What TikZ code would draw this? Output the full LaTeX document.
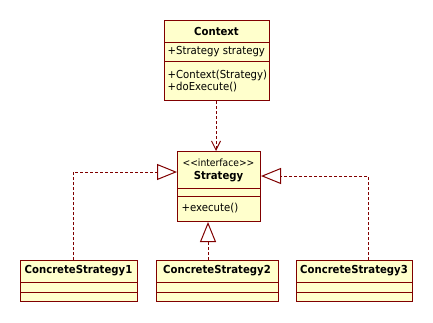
\documentclass[tikz,border=0pt]{standalone}
\usepackage{fontspec}
\setmainfont{DejaVu Sans}[FakeStretch=0.92]
\usetikzlibrary{arrows.meta}
\definecolor{umlline}{HTML}{800000}
\definecolor{umlfill}{HTML}{FFFFCC}
\tikzset{
  classbox/.style={draw=umlline, fill=umlfill, line width=1pt, inner sep=0pt, anchor=north west},
  divider/.style={draw=umlline, line width=1pt},
  title/.style={font=\fontsize{11}{13}\selectfont\bfseries, inner sep=0pt},
  member/.style={font=\fontsize{11}{13}\selectfont, inner sep=0pt, anchor=west},
  depend/.style={draw=umlline, line width=1pt, dash pattern=on 3pt off 2pt, -{Straight Barb[length=9pt,width=9pt,line width=1pt]}},
  realize/.style={draw=umlline, line width=1pt, dash pattern=on 3pt off 2pt, -{Triangle[open,length=20pt,width=16pt,line width=1pt,fill=white]}}
}
\begin{document}
\begin{tikzpicture}[x=1pt, y=-1pt]
\useasboundingbox (0,0) rectangle (433,322);
\fill[white] (0,0) rectangle (433,322);

% Context class
\node[classbox, minimum width=105pt, minimum height=80pt] (ctx) at (164,20) {};
\draw[divider] (ctx.west |- 0,42.5) -- (ctx.east |- 0,42.5);
\draw[divider] (ctx.west |- 0,61) -- (ctx.east |- 0,61);
\node[title] (ctxname) at (216.5,31.5) {Context};
\node[member] (ctxattr) at (167.5,52) {+Strategy strategy};
\node[member] (ctxop1) at (167.5,75) {+Context(Strategy)};
\node[member] (ctxop2) at (167.5,87.5) {+doExecute()};

% Strategy interface
\node[classbox, minimum width=83pt, minimum height=70pt] (strat) at (177,151) {};
\draw[divider] (strat.west |- 0,188) -- (strat.east |- 0,188);
\draw[divider] (strat.west |- 0,196.5) -- (strat.east |- 0,196.5);
\node[member, anchor=center, font=\fontsize{10}{12}\selectfont] (stereo) at (218.5,163) {<\kern0pt<interface>\kern0pt>};
\node[title] (stratname) at (218.5,176.5) {Strategy};
\node[member] (stratop) at (181.5,208.5) {+execute()};

% Concrete strategies
\node[classbox, minimum width=117pt, minimum height=41pt] (cs1) at (20,260) {};
\draw[divider] (cs1.west |- 0,282) -- (cs1.east |- 0,282);
\draw[divider] (cs1.west |- 0,292) -- (cs1.east |- 0,292);
\node[title] (cs1name) at (78.5,271) {ConcreteStrategy1};

\node[classbox, minimum width=122pt, minimum height=41pt] (cs2) at (156,260) {};
\draw[divider] (cs2.west |- 0,282) -- (cs2.east |- 0,282);
\draw[divider] (cs2.west |- 0,292) -- (cs2.east |- 0,292);
\node[title] (cs2name) at (217,271) {ConcreteStrategy2};

\node[classbox, minimum width=116pt, minimum height=41pt] (cs3) at (296,260) {};
\draw[divider] (cs3.west |- 0,282) -- (cs3.east |- 0,282);
\draw[divider] (cs3.west |- 0,292) -- (cs3.east |- 0,292);
\node[title] (cs3name) at (354,271) {ConcreteStrategy3};

% Relations
\draw[depend] (ctx.south -| 216,0) -- (strat.north -| 216,0);
\draw[realize] (cs1.north -| 73,0) |- (strat.west |- 0,172);
\draw[realize] (cs2.north -| 208,0) -- (strat.south -| 208,0);
\draw[realize] (cs3.north -| 368,0) |- (strat.east |- 0,176);
\end{tikzpicture}
\end{document}
